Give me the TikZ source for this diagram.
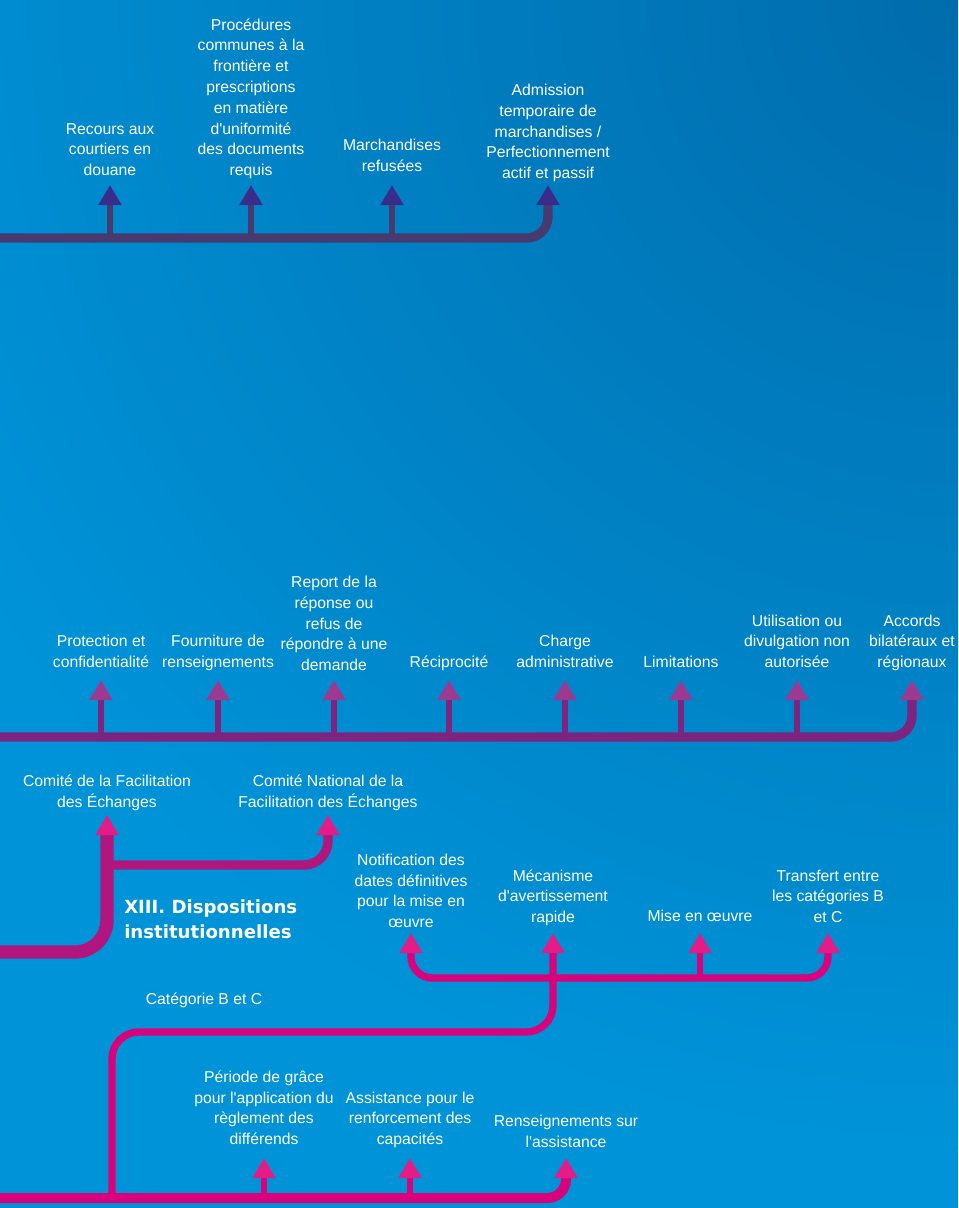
\documentclass[tikz,border=0pt]{standalone}
\usepackage{fontspec}
\setmainfont{Liberation Sans}
\newfontfamily\headfont{DejaVu Sans}
\usetikzlibrary{arrows.meta}

\definecolor{bgblue}{RGB}{0,147,216}
\definecolor{bgdark}{RGB}{0,108,172}
\definecolor{toppurple}{RGB}{70,58,110}
\definecolor{toptip}{RGB}{58,44,138}
\definecolor{midpurple}{RGB}{124,36,128}
\definecolor{midtip}{RGB}{156,58,146}
\definecolor{instmag}{RGB}{176,22,126}
\definecolor{lowmag}{RGB}{216,2,124}
\definecolor{lowtip}{RGB}{228,28,136}

\newcommand{\apos}{\textquotesingle}

\begin{document}
\begin{tikzpicture}[x=0.75pt, y=-0.75pt,
        lbl/.style={text=white, align=center, inner sep=0pt, anchor=south, text depth=0pt, font=\fontsize{11.8}{15.6}\selectfont},
        headto/.style={arrows={-Triangle[width=16.5pt,length=15pt,color=#1]}},
        headboth/.style={arrows={Triangle[width=16.5pt,length=15pt,color=#1]-Triangle[width=16.5pt,length=15pt,color=#1]}},
        topline/.style={draw=toppurple, line width=7pt},
        topstem/.style={draw=toppurple, line width=4.5pt},
        midline/.style={draw=midpurple, line width=7pt},
        midstem/.style={draw=midpurple, line width=4pt},
        instline/.style={draw=instmag, line width=10pt},
        instbranch/.style={draw=instmag, line width=7pt},
        lowline/.style={draw=lowmag, line width=5.5pt},
        lowstem/.style={draw=lowmag, line width=4pt},
        bottomline/.style={draw=lowmag, line width=7.5pt}
    ]
    \useasboundingbox (0,0) rectangle (958,1208);

    % Background
    \fill[bgblue] (0,0) rectangle (958,1208);
    \begin{scope}
        \clip (0,0) rectangle (958,1208);
        \shade[inner color=bgdark, outer color=bgblue] (958,0) circle (1150);
    \end{scope}

    % Bar heights
    \coordinate (ttip) at (0,185);
    \coordinate (tbar) at (0,238);
    \coordinate (ptip) at (0,680);
    \coordinate (pbar) at (0,737);
    \coordinate (xtip) at (0,815);
    \coordinate (xbr) at (0,865);
    \coordinate (xbar) at (0,952);
    \coordinate (ntip) at (0,933);
    \coordinate (nbar) at (0,978);
    \coordinate (cbar) at (0,1032);
    \coordinate (btip) at (0,1158);
    \coordinate (bbar) at (0,1198);
    \coordinate (bjoin) at (112,1198);

    % Top group
    \node[lbl] (rec) at (110,176) {Recours aux\\courtiers en\\douane};
    \node[lbl] (proc) at (251,176) {Procédures\\communes à la\\frontière et\\prescriptions\\en matière\\d\apos uniformité\\des documents\\requis};
    \node[lbl] (marc) at (392,172) {Marchandises\\refusées};
    \node[lbl] (adm) at (548,179) {Admission\\temporaire de\\marchandises /\\Perfectionnement\\actif et passif};

    \draw[topline, headto=toptip, rounded corners=16pt] (tbar) -| (adm.south |- ttip);
    \foreach \n in {rec,proc,marc}
        \draw[topstem, headto=toptip] (\n.south |- tbar) -- (\n.south |- ttip);

    % Purple group
    \node[lbl] (prot) at (101,668) {Protection et\\confidentialité};
    \node[lbl] (four) at (218,668) {Fourniture de\\renseignements};
    \node[lbl] (rep) at (334,671) {Report de la\\réponse ou\\refus de\\répondre à une\\demande};
    \node[lbl] (reci) at (449,668) {Réciprocité};
    \node[lbl] (charge) at (565,668) {Charge\\administrative};
    \node[lbl] (lim) at (681,668) {Limitations};
    \node[lbl] (util) at (797,668) {Utilisation ou\\divulgation non\\autorisée};
    \node[lbl] (acc) at (912,668) {Accords\\bilatéraux et\\régionaux};

    \draw[midline, headto=midtip, rounded corners=16pt] (pbar) -| (acc.south |- ptip);
    \foreach \n in {prot,four,rep,reci,charge,lim,util}
        \draw[midstem, headto=midtip] (\n.south |- pbar) -- (\n.south |- ptip);

    % XIII group
    \node[lbl] (com1) at (107,808) {Comité de la Facilitation\\des Échanges};
    \node[lbl] (com2) at (328,808) {Comité National de la\\Facilitation des Échanges};
    \node[text=white, align=left, anchor=west, inner sep=0pt, font=\fontsize{13.6}{18.75}\headfont\bfseries] (inst) at (124,919) {XIII. Dispositions\\institutionnelles};

    \draw[instline, headto=lowtip, rounded corners=24pt] (xbar) -| (com1.south |- xtip);
    \draw[instbranch, headto=lowtip, rounded corners=18pt] (com1.south |- xbr) -| (com2.south |- xtip);

    % Category B and C group
    \node[lbl] (notif) at (411,928) {Notification des\\dates définitives\\pour la mise en\\œuvre};
    \node[lbl] (meca) at (553,923) {Mécanisme\\d\apos avertissement\\rapide};
    \node[lbl] (mise) at (700,922) {Mise en œuvre};
    \node[lbl] (trans) at (828,923) {Transfert entre\\les catégories B\\et C};
    \node[lbl, anchor=base] (cat) at (204,1004) {Catégorie B et C};

    \draw[lowline, headboth=lowtip, rounded corners=16pt] (notif.south |- ntip) -- (notif.south |- nbar) -- (trans.south |- nbar) -- (trans.south |- ntip);
    \draw[lowstem, headto=lowtip] (mise.south |- nbar) -- (mise.south |- ntip);
    \draw[lowline, headto=lowtip, rounded corners=20pt] (bjoin) |- (meca.south |- cbar) -- (meca.south |- ntip);

    % Bottom group
    \node[lbl] (per) at (264,1145) {Période de grâce\\pour l\apos application du\\règlement des\\différends};
    \node[lbl] (assist) at (410,1145) {Assistance pour le\\renforcement des\\capacités};
    \node[lbl] (rens) at (566,1148) {Renseignements sur\\l\apos assistance};

    \draw[bottomline, headto=lowtip, rounded corners=14pt] (bbar) -| (rens.south |- btip);
    \foreach \n in {per,assist}
        \draw[lowstem, headto=lowtip] (\n.south |- bbar) -- (\n.south |- btip);

\end{tikzpicture}
\end{document}
